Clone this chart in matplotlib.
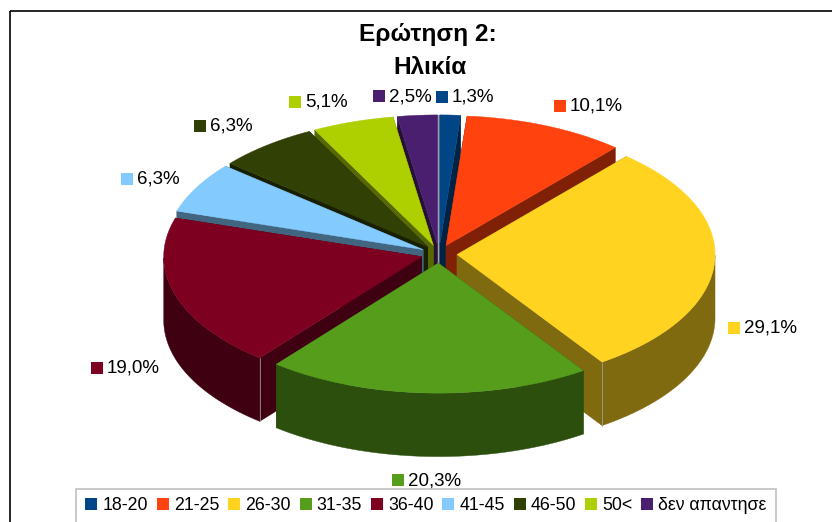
import numpy as np
import matplotlib
matplotlib.use("Agg")
import matplotlib.pyplot as plt
from matplotlib.patches import Polygon, Patch, Rectangle

plt.rcParams['font.family'] = ['Liberation Sans', 'DejaVu Sans']

# ───── Data ─────
CATEGORIES = ["18-20", "21-25", "26-30", "31-35", "36-40", "41-45", "46-50", "50<", "δεν απαντησε"]
VALUES = [1.3, 10.1, 29.1, 20.3, 19.0, 6.3, 6.3, 5.1, 2.5]
COLORS = ["#004586", "#ff420e", "#ffd320", "#579d1c", "#7e0021", "#83caff", "#314004", "#aecf00", "#4b1f6f"]

# where each data label's square sits, in image pixels
LABEL_X = [442, 560, 734, 398, 97, 127, 200, 295, 379]
LABEL_Y = [96.5, 105.5, 327.5, 480, 367.5, 178.5, 125.5, 101.5, 96]

# pie geometry, in image pixels
CX, CY = 439, 254
RX, RY = 258, 130
DEPTH = 63.5
EXPLODE = 0.07
FS = 13.5


def shade(color, f=0.5):
    return tuple(c * f for c in matplotlib.colors.to_rgb(color))


def ell(angle, ox, oy, drop=0):
    # angle in degrees, clockwise from the top of the pie
    a = np.radians(angle)
    return np.column_stack([ox + RX * np.sin(a), oy - RY * np.cos(a) + drop])


fig = plt.figure(figsize=(8.32, 5.22), dpi=100)
ax = fig.add_axes([0, 0, 1, 1])
ax.set_xlim(0, 832)
ax.set_ylim(522, 0)
ax.axis("off")

# chart frame runs off the right and bottom of the picture
ax.add_patch(Rectangle((9.5, 11), 900, 600, fill=False, ec="black", lw=1.2))

edges = np.concatenate([[0], np.cumsum(VALUES)]) / sum(VALUES) * 360
wedges = []
for i, color in enumerate(COLORS):
    mid = (edges[i] + edges[i + 1]) / 2
    wedges.append((-np.cos(np.radians(mid)), i, mid))

# back to front, so nearer wedges paint over walls of the farther ones
for _, i, mid in sorted(wedges):
    start, end = edges[i], edges[i + 1]
    ox = CX + EXPLODE * RX * np.sin(np.radians(mid))
    oy = CY - EXPLODE * RY * np.cos(np.radians(mid))
    dark = shade(COLORS[i])
    arc = np.linspace(start, end, 120)

    for ang in (start, end):
        p = ell(ang, ox, oy)[0]
        wall = [(ox, oy), p, (p[0], p[1] + DEPTH), (ox, oy + DEPTH)]
        ax.add_patch(Polygon(wall, fc=dark, ec=dark, lw=0.3))

    front = arc[np.cos(np.radians(arc)) < 0]
    if len(front) > 1:
        top_edge = ell(front, ox, oy)
        low_edge = ell(front, ox, oy, DEPTH)
        ax.add_patch(Polygon(np.vstack([top_edge, low_edge[::-1]]), fc=dark, ec=dark, lw=0.3))
        # thin light seam where a radial wall meets the round wall
        for ang, side in ((start, -1), (end, 1)):
            if np.cos(np.radians(ang)) < 0 and np.sin(np.radians(ang)) * side > 0:
                p = ell(ang, ox, oy)[0]
                ax.plot([p[0], p[0]], [p[1], p[1] + DEPTH], color="#a8a8a8", lw=0.5)

    top = np.vstack([[(ox, oy)], ell(arc, ox, oy)])
    ax.add_patch(Polygon(top, fc=COLORS[i], ec=COLORS[i], lw=0.3))

# data labels
for v, c, x, y in zip(VALUES, COLORS, LABEL_X, LABEL_Y):
    ax.plot(x, y, marker="s", ms=8.4, color=c, mew=0)
    ax.text(x + 10, y + 0.5, f"{v:.1f}".replace(".", ",") + "%", fontsize=FS, va="center", ha="left", color="black")

ax.text(428, 35, "Ερώτηση 2:", fontsize=17.6, fontweight="bold", ha="center", va="center")
ax.text(430, 68, "Ηλικία", fontsize=17.6, fontweight="bold", ha="center", va="center")

handles = [Patch(fc=c, ec="none") for c in COLORS]
leg = ax.legend(handles, CATEGORIES, ncol=9, loc="center", bbox_to_anchor=(426, 506),
                bbox_transform=ax.transData, fontsize=12.8, frameon=True, fancybox=False,
                edgecolor="#c0c0c0", framealpha=1, handlelength=0.68, handleheight=0.68,
                handletextpad=0.28, columnspacing=0.5, borderpad=0.5, borderaxespad=0)
leg.get_frame().set_linewidth(1.2)

fig.savefig("out.png", dpi=100)
